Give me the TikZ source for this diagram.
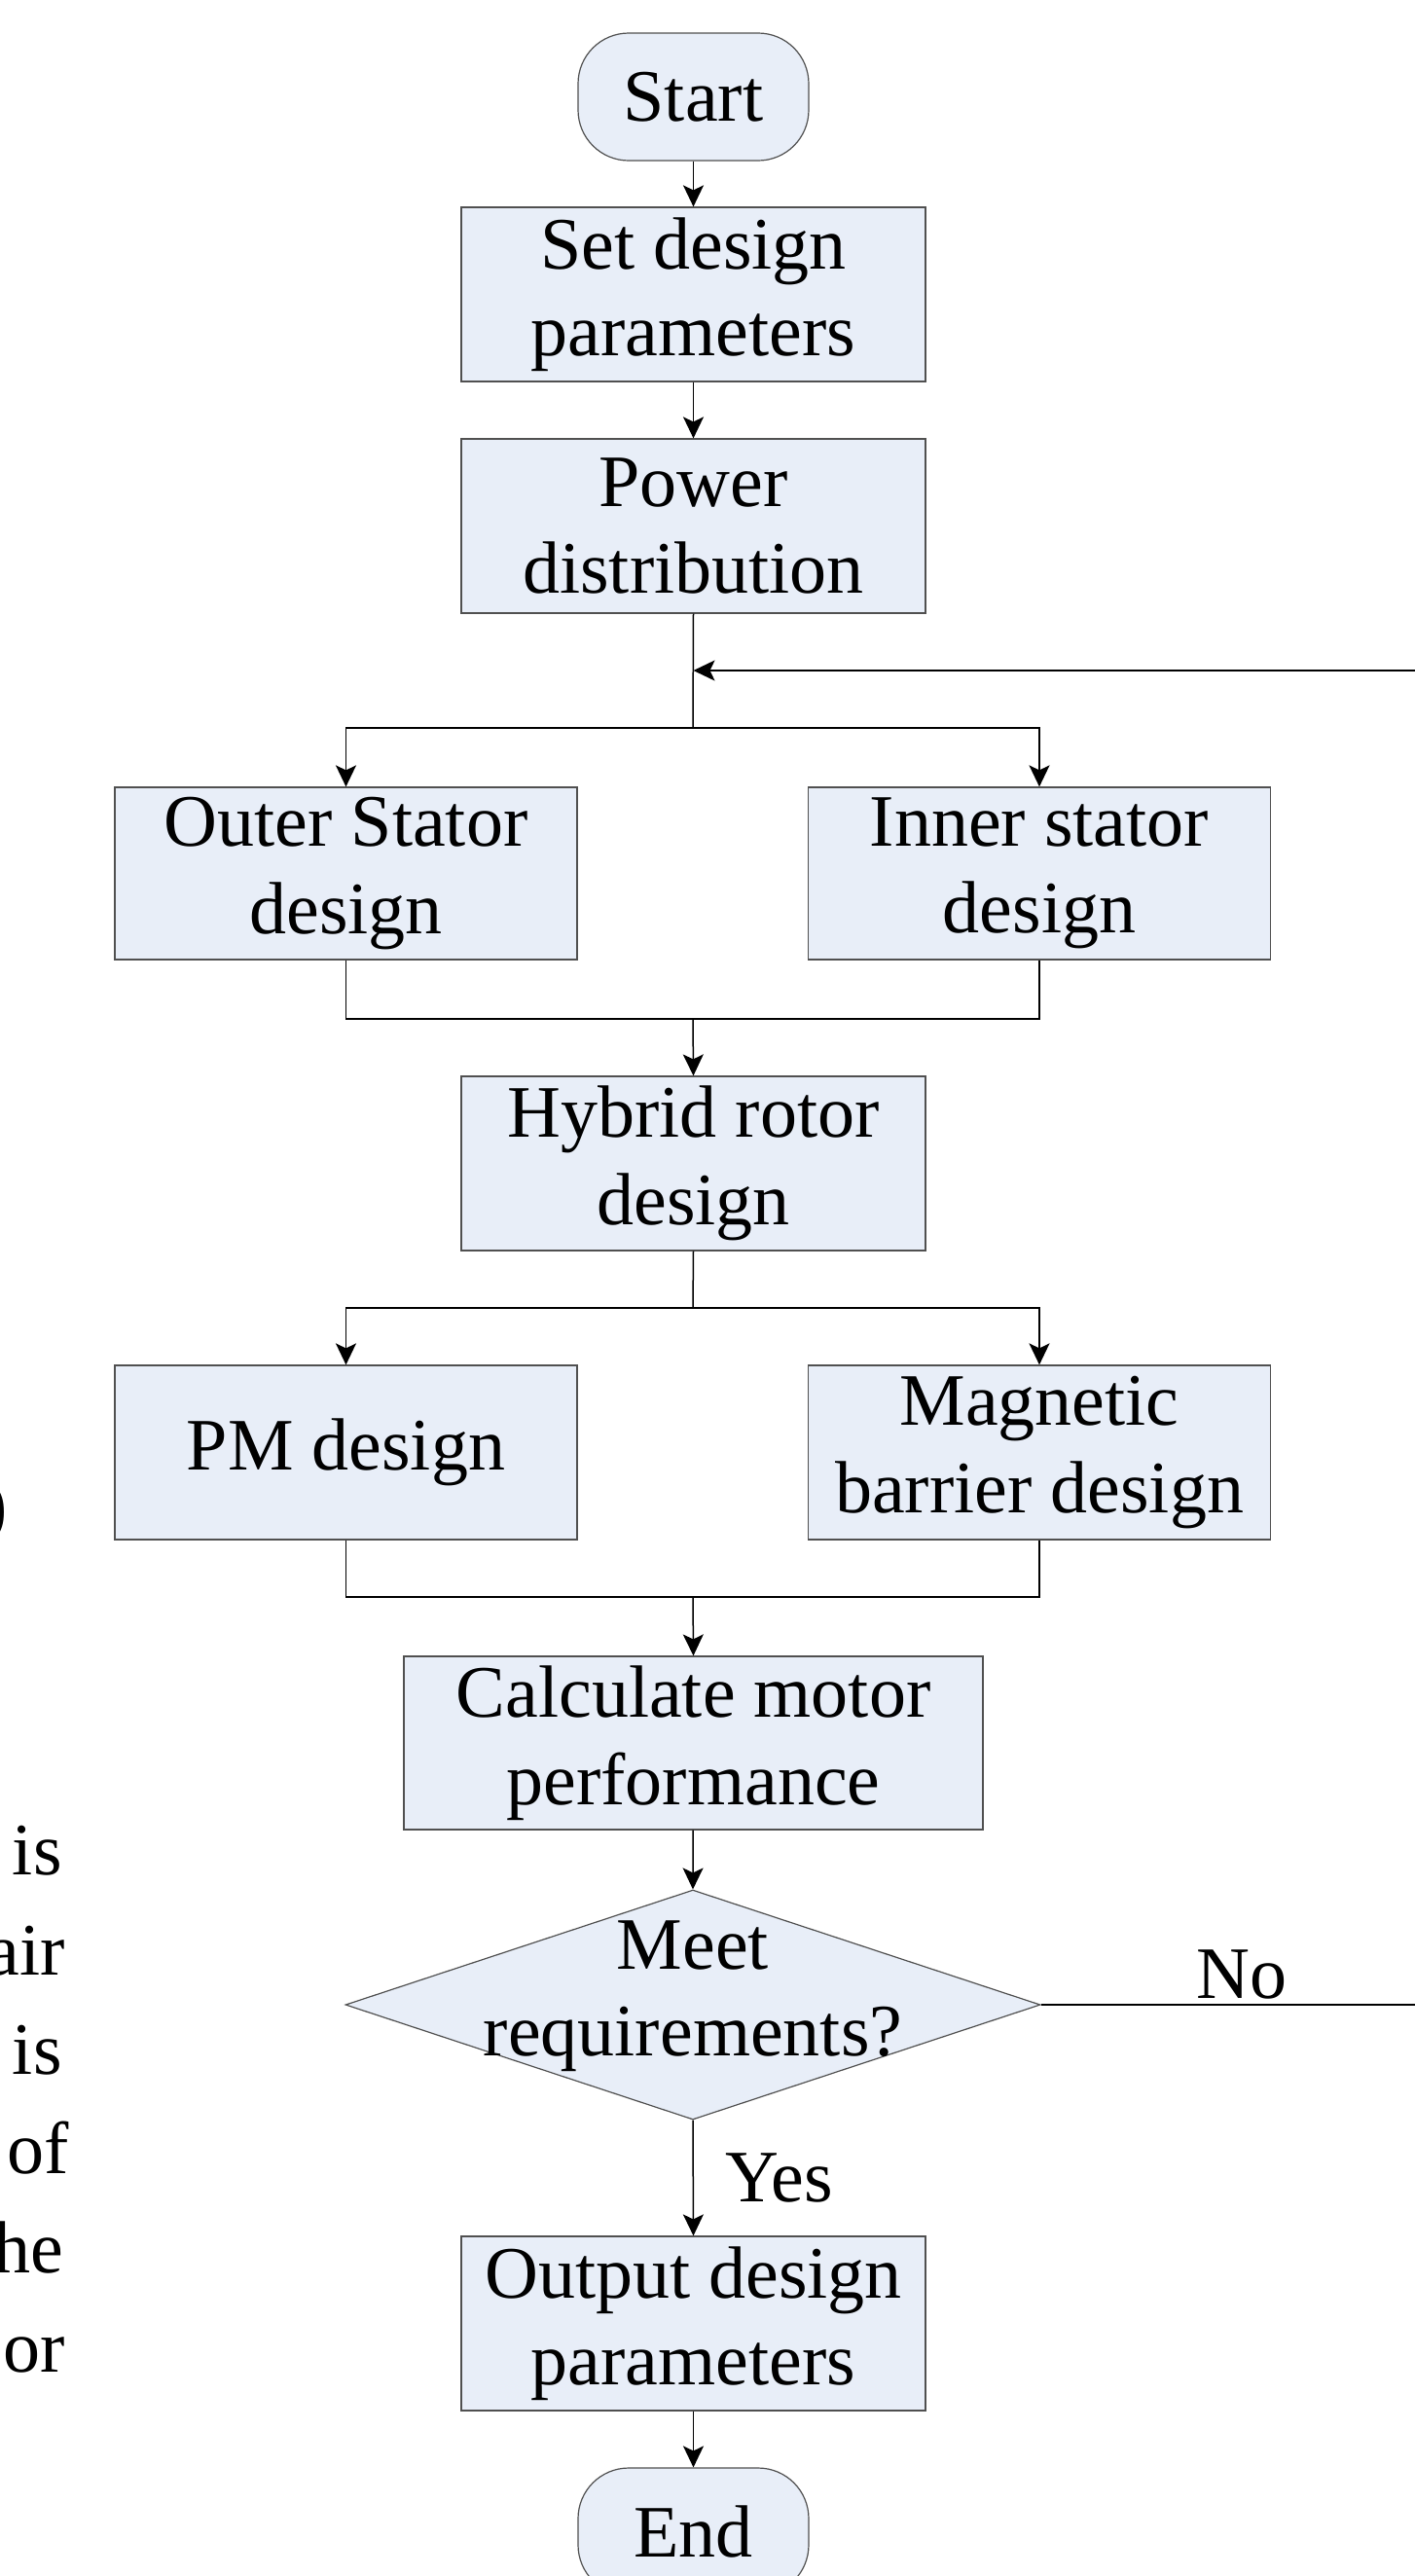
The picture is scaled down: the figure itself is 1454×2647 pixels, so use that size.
\documentclass[tikz,border=0pt]{standalone}
\usepackage{fontspec}
\setmainfont{Liberation Serif}
\usetikzlibrary{shapes.geometric,arrows.meta}
\definecolor{boxfill}{HTML}{E8EEF8}
\definecolor{boxline}{HTML}{505050}
\begin{document}
\begin{tikzpicture}[x=0.5pt,y=-0.5pt,
  every node/.style={font=\fontsize{38}{44.75}\selectfont},
  procbox/.style={draw=boxline, fill=boxfill, line width=0.6pt, rectangle, inner sep=0pt, minimum width=238.5pt, minimum height=89.5pt, align=center},
  termbox/.style={draw=boxline, fill=boxfill, line width=0.6pt, rectangle, rounded corners=26pt, minimum width=118.5pt, minimum height=65.5pt, inner sep=0pt},
  decbox/.style={draw=boxline, fill=boxfill, line width=0.6pt, diamond, inner sep=0pt, minimum width=357pt, minimum height=118pt},
  arr/.style={-{Stealth[length=11pt,width=10.5pt,inset=2.5pt]}},
  conn/.style={draw=black, line width=0.75pt},
  sidetext/.style={anchor=base east, inner sep=0pt, font=\fontsize{38}{51}\selectfont}
]
\useasboundingbox (0,0) rectangle (1454,2647);

% nodes
\node[termbox] (start) at (712.5,99.5) {Start};
\node[procbox] (set) at (712.5,302.5) {Set design\\parameters};
\node[procbox] (power) at (712.5,540.5) {Power\\distribution};
\node[procbox, minimum width=237.5pt, minimum height=88.5pt] (outer) at (355.5,897.5) {Outer Stator\\design};
\node[procbox, minimum width=237.5pt, minimum height=88.5pt] (inner) at (1068,897.5) {Inner stator\\design};
\node[procbox] (hybrid) at (712.5,1195.5) {Hybrid rotor\\design};
\node[procbox, minimum width=237.5pt] (pm) at (355.5,1492.5) {PM design};
\node[procbox, minimum width=237.5pt] (mb) at (1068,1492.5) {Magnetic\\barrier design};
\node[procbox, minimum width=297.5pt, minimum height=89pt] (calc) at (712.5,1791) {Calculate motor\\performance};
\node[decbox] (dec) at (712,2060) {};
\node[align=center, inner sep=0pt] (dectext) at (712,2051) {Meet\\requirements?};
\node[procbox] (out) at (712.5,2387.5) {Output design\\parameters};
\node[termbox] (end) at (712.5,2601.5) {End};

% helper coordinates
\coordinate (br1) at (712,748);
\coordinate (mg1) at (712,1047);
\coordinate (br2) at (712,1344);
\coordinate (mg2) at (712,1641);
\coordinate (noend) at (1454,2060);
\coordinate (fbstart) at (1454,689);

% connectors
\draw[conn,arr] (start) -- (set);
\draw[conn,arr] (set) -- (power);
\draw[conn] (power.south) -- (br1);
\draw[conn,arr] (fbstart) -- (fbstart -| power.south);
\draw[conn,arr] (br1) -| (outer.north);
\draw[conn,arr] (br1) -| (inner.north);
\draw[conn] (outer.south) |- (mg1) -| (inner.south);
\draw[conn,arr] (mg1) -- (hybrid.north);
\draw[conn] (hybrid.south) -- (br2);
\draw[conn,arr] (br2) -| (pm.north);
\draw[conn,arr] (br2) -| (mb.north);
\draw[conn] (pm.south) |- (mg2) -| (mb.south);
\draw[conn,arr] (mg2) -- (calc.north);
\draw[conn,arr] (calc) -- (dec.north);
\draw[conn,arr] (dec.south) -- node[midway, anchor=west, inner sep=0pt, xshift=16pt] (yes) {Yes} (out.north);
\draw[conn] (dec.east) -- node[pos=0.538, anchor=base, inner sep=0pt, yshift=3.5pt] (no) {No} (noend);
\draw[conn,arr] (out) -- (end);

% clipped fragments of surrounding page text
\node[anchor=base east, inner sep=0pt] (paren) at (8,1572) {)};
\node[sidetext] (s1) at (64,1926) {is};
\node[sidetext] (s2) at (67,2029) {air};
\node[sidetext] (s3) at (64,2131) {is};
\node[sidetext] (s4) at (71,2233) {of};
\node[sidetext] (s5) at (66,2335) {he};
\node[sidetext] (s6) at (67,2437) {or};
\end{tikzpicture}
\end{document}
